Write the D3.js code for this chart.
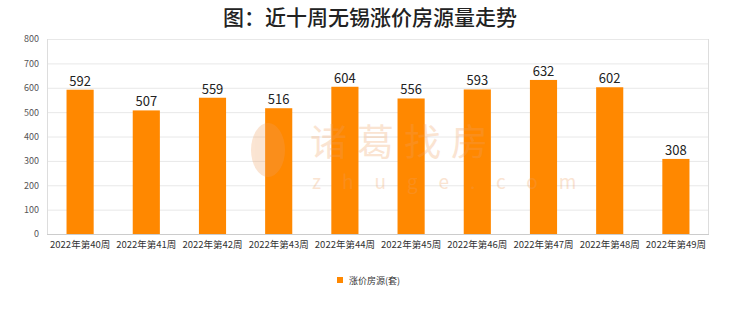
<!DOCTYPE html>
<html>
<head>
<meta charset="utf-8">
<script src="https://cdn.jsdelivr.net/npm/d3@7"></script>
<style>
  body { margin: 0; background: #fff; }
  text { font-family: "Noto Sans CJK SC", "Noto Sans", sans-serif; }
</style>
</head>
<body>
<div id="chart"></div>
<script>
var weeks = ["2022年第40周","2022年第41周","2022年第42周","2022年第43周","2022年第44周",
             "2022年第45周","2022年第46周","2022年第47周","2022年第48周","2022年第49周"];
var values = [592, 507, 559, 516, 604, 556, 593, 632, 602, 308];
var yTicks = [0, 100, 200, 300, 400, 500, 600, 700, 800];
var seriesName = "涨价房源(套)";
var title = "图：近十周无锡涨价房源量走势";

var W = 740, H = 312;
var margin = {top: 39, right: 31, bottom: 78, left: 47};
var width = W - margin.left - margin.right,
    height = H - margin.top - margin.bottom;

var svg = d3.select("#chart").append("svg")
  .attr("width", W).attr("height", H);

// title
svg.append("text")
  .attr("x", W/2).attr("y", 25)
  .attr("text-anchor", "middle")
  .style("font-size", "21px")
  .style("font-weight", "500")
  .style("fill", "#222")
  .text(title);

var g = svg.append("g")
  .attr("transform", "translate(" + margin.left + "," + margin.top + ")");

var x = d3.scaleBand().domain(weeks).range([0, width]).paddingInner(0.59).paddingOuter(0.295);
var y = d3.scaleLinear().domain([0, 800]).range([height, 0]);

// grid
g.append("g").selectAll("line")
  .data(yTicks)
  .enter().append("line")
  .attr("x1", 0).attr("x2", width)
  .attr("y1", function(d){ return y(d) + 0.5; })
  .attr("y2", function(d){ return y(d) + 0.5; })
  .style("stroke", function(d){ return d == 0 ? "#ccc" : "#e8e8e8"; })
  .style("stroke-width", 1);

// frame sides
g.append("line").attr("x1", 0.5).attr("x2", 0.5).attr("y1", 0).attr("y2", height).style("stroke", "#ddd");
g.append("line").attr("x1", width - 0.5).attr("x2", width - 0.5).attr("y1", 0).attr("y2", height).style("stroke", "#ddd");

// watermark (behind bars)
var wm = svg.append("g").style("opacity", 0.28);
wm.append("text")
  .attr("x", 310).attr("y", 156)
  .style("font-size", "37px")
  .style("letter-spacing", "10px")
  .style("fill", "#f0a060")
  .text("诸葛找房");
wm.append("text")
  .attr("x", 312).attr("y", 189)
  .style("font-size", "19px")
  .style("letter-spacing", "21px")
  .style("fill", "#f0a060")
  .text("zhuge.com");
wm.append("ellipse")
  .attr("cx", 268).attr("cy", 150).attr("rx", 17).attr("ry", 27)
  .style("fill", "#f0a060");

// y axis labels
var yAxis = d3.axisLeft(y).tickValues(yTicks).tickSize(0).tickPadding(8);
var ya = g.append("g").call(yAxis);
ya.select(".domain").remove();
ya.selectAll("text").style("font-size", "9px").style("fill", "#555");

// x axis labels
var xAxis = d3.axisBottom(x).tickSize(0).tickPadding(7);
var xa = g.append("g").attr("transform", "translate(0," + height + ")").call(xAxis);
xa.select(".domain").remove();
xa.selectAll("text")
  .style("font-size", "9.5px")
  .style("fill", "#333")
  .style("font-family", "'Noto Sans CJK SC', sans-serif");

// bars
g.append("g").selectAll("rect")
  .data(values)
  .enter().append("rect")
  .attr("x", function(d, i){ return x(weeks[i]); })
  .attr("y", function(d){ return y(d); })
  .attr("width", x.bandwidth())
  .attr("height", function(d){ return height - y(d); })
  .style("fill", "#ff8800");

// value labels
g.append("g").selectAll("text")
  .data(values)
  .enter().append("text")
  .attr("x", function(d, i){ return x(weeks[i]) + x.bandwidth()/2; })
  .attr("y", function(d){ return y(d) - 4; })
  .attr("text-anchor", "middle")
  .style("font-size", "13px")
  .style("fill", "#222")
  .text(function(d){ return d; });

// legend
var lg = svg.append("g").attr("transform", "translate(337,277)");
lg.append("rect").attr("x", 0).attr("y", 0).attr("width", 6).attr("height", 6).style("fill", "#ff8800");
lg.append("text").attr("x", 12).attr("y", 6.5)
  .style("font-size", "9px").style("fill", "#333")
  .text(seriesName);
</script>
</body>
</html>
